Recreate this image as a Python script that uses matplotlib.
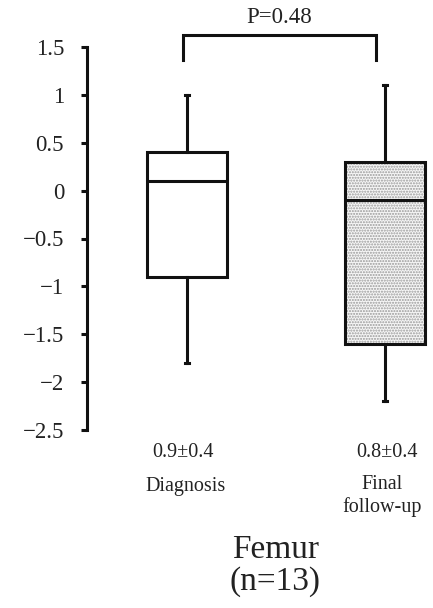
import matplotlib
matplotlib.use("Agg")
import matplotlib.pyplot as plt

plt.rcParams['font.family'] = ['Liberation Serif', 'DejaVu Serif']

# box summary values
groups = ["Diagnosis", "Final\nfollow-up"]
means = ["0.9\u00b10.4", "0.8\u00b10.4"]
whislo = [-1.8, -2.2]
q1 = [-0.9, -1.6]
med = [0.1, -0.1]
q3 = [0.4, 0.3]
whishi = [1.0, 1.1]
p_text = "P=0.48"
yticks = [1.5, 1, 0.5, 0, -0.5, -1, -1.5, -2, -2.5]

fig = plt.figure(figsize=(4.33, 6.08), dpi=100)
ax = fig.add_axes([87 / 433, 178 / 608, 346 / 433, 383 / 608])

pos = [1, 2]
width = 0.404

# dotted fill for the second box
ax.bar(pos[1], q3[1] - q1[1], bottom=q1[1], width=width, color='#f6f6f6',
       edgecolor='#9a9a9a', hatch='......', linewidth=0, zorder=1)

stats = []
for i in range(2):
    stats.append(dict(whislo=whislo[i], q1=q1[i], med=med[i], q3=q3[i],
                      whishi=whishi[i], fliers=[]))
lw = 2.2
ax.bxp(stats, positions=pos, widths=width, showfliers=False,
       patch_artist=True, capwidths=0.016,
       boxprops=dict(facecolor='none', edgecolor='#111111', linewidth=lw),
       medianprops=dict(color='#111111', linewidth=lw),
       whiskerprops=dict(color='#111111', linewidth=lw),
       capprops=dict(color='#111111', linewidth=lw), zorder=3)

ax.set_xlim(0.495, 2.242)
ax.set_ylim(-2.5, 1.5)
for s in ['top', 'right', 'bottom']:
    ax.spines[s].set_visible(False)
ax.spines['left'].set_linewidth(2.2)
ax.spines['left'].set_color('#111111')
ax.set_xticks([])
ax.set_yticks(yticks)
ax.set_yticklabels([("\u2212" + str(abs(t))) if t < 0 else str(t) for t in yticks])
ax.tick_params(axis='y', length=4.5, width=2.2, color='#111111', pad=12,
               labelsize=16.5, labelcolor='#222222')

# significance bracket
bx = [0.98, 1.955]
ax.plot([bx[0], bx[0], bx[1], bx[1]], [1.36, 1.625, 1.625, 1.36],
        color='#111111', lw=2.2, clip_on=False, solid_joinstyle='miter')
ax.text(sum(bx) / 2, 1.81, p_text, ha='center', va='center', fontsize=16.5,
        color='#222222')

# labels under each box
ax.text(0.98, -2.74, means[0], ha='center', va='center', fontsize=14.5, color='#222222')
ax.text(0.995, -3.095, groups[0], ha='center', va='center', fontsize=14.5, color='#222222')
ax.text(2.01, -2.74, means[1], ha='center', va='center', fontsize=14.5, color='#222222')
ax.text(1.985, -3.19, groups[1], ha='center', va='center', fontsize=14.5,
        color='#222222', linespacing=1.15)
ax.text(1.445, -3.92, "Femur\n(n=13)", ha='center', va='center', fontsize=24,
        color='#222222', linespacing=1.05)

fig.savefig("out.png", dpi=100)
